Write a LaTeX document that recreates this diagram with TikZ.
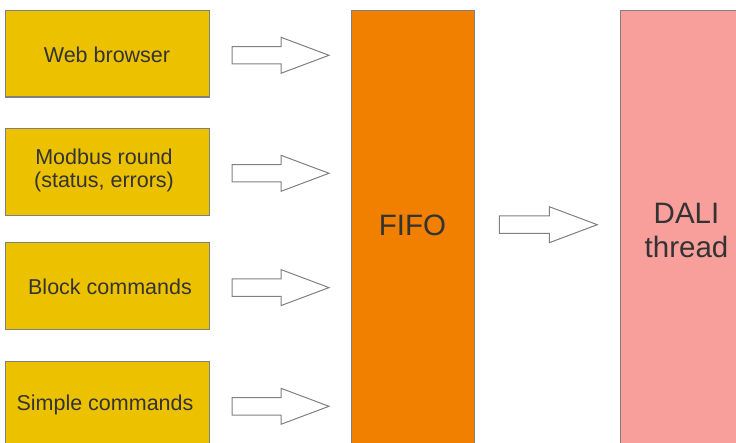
\documentclass[tikz,border=0pt]{standalone}
\usepackage{fontspec}
\setmainfont{Liberation Sans}
\definecolor{boxyellow}{HTML}{ECC100}
\definecolor{boxorange}{HTML}{F18000}
\definecolor{boxpink}{HTML}{F89E9B}
\definecolor{edgegray}{HTML}{808080}
\definecolor{textgray}{HTML}{333333}
\begin{document}
\begin{tikzpicture}[x=1pt,y=-1pt,
  srcbox/.style={draw=edgegray, line width=1.2pt, fill=boxyellow, anchor=north west, inner sep=0pt,
    minimum width=204pt, minimum height=86.5pt},
  bigbox/.style={draw=edgegray, line width=1.2pt, anchor=north west, inner sep=0pt},
  smalltext/.style={text=textgray, font=\fontsize{21.5}{22.5}\selectfont, align=center, inner sep=0pt},
  bigtext/.style={text=textgray, font=\fontsize{29.5}{34}\selectfont, align=center, inner sep=0pt},
  blockarrow/.style={draw=edgegray, line width=1pt, fill=white, line join=miter}
]
\useasboundingbox (0,0) rectangle (736,443);
\clip (0,0) rectangle (736,443);
% source boxes
\node[srcbox] (web) at (5,10) {};
\node[srcbox] (modbus) at (5,128.3) {};
\node[srcbox] (block) at (5,242.3) {};
\node[srcbox] (simple) at (5,360.7) {};
\node[smalltext] (webt) at (107,55) {Web browser};
\node[smalltext] (modbust) at (104,170.5) {Modbus round\\(status, errors)};
\node[smalltext] (blockt) at (110,287) {Block commands};
\node[smalltext] (simplet) at (105,404.5) {Simple commands};
% fifo and dali
\node[bigbox, fill=boxorange, minimum width=123pt, minimum height=460pt] (fifo) at (351,10) {};
\node[bigtext] (fifot) at (412.5,225) {FIFO};
\node[bigbox, fill=boxpink, minimum width=140pt, minimum height=460pt] (dali) at (620,10) {};
\node[bigtext] (dalit) at (686.5,230) {DALI\\thread};
% block arrows
\newcommand{\blkarrow}[5]{% x0, xhead, xtip, ycenter, name
  \coordinate (#5) at (#1,#4);
  \draw[blockarrow] (#1,#4-8.7) -- (#2,#4-8.7) -- (#2,#4-18) -- (#3,#4) -- (#2,#4+18) -- (#2,#4+8.7) -- (#1,#4+8.7) -- cycle;}
\blkarrow{232}{281}{329}{55.3}{a1}
\blkarrow{232}{281}{329}{173.3}{a2}
\blkarrow{232}{281}{329}{287.6}{a3}
\blkarrow{232}{281}{329}{406.3}{a4}
\blkarrow{499.3}{549.3}{597.3}{224.7}{a5}
\end{tikzpicture}
\end{document}
